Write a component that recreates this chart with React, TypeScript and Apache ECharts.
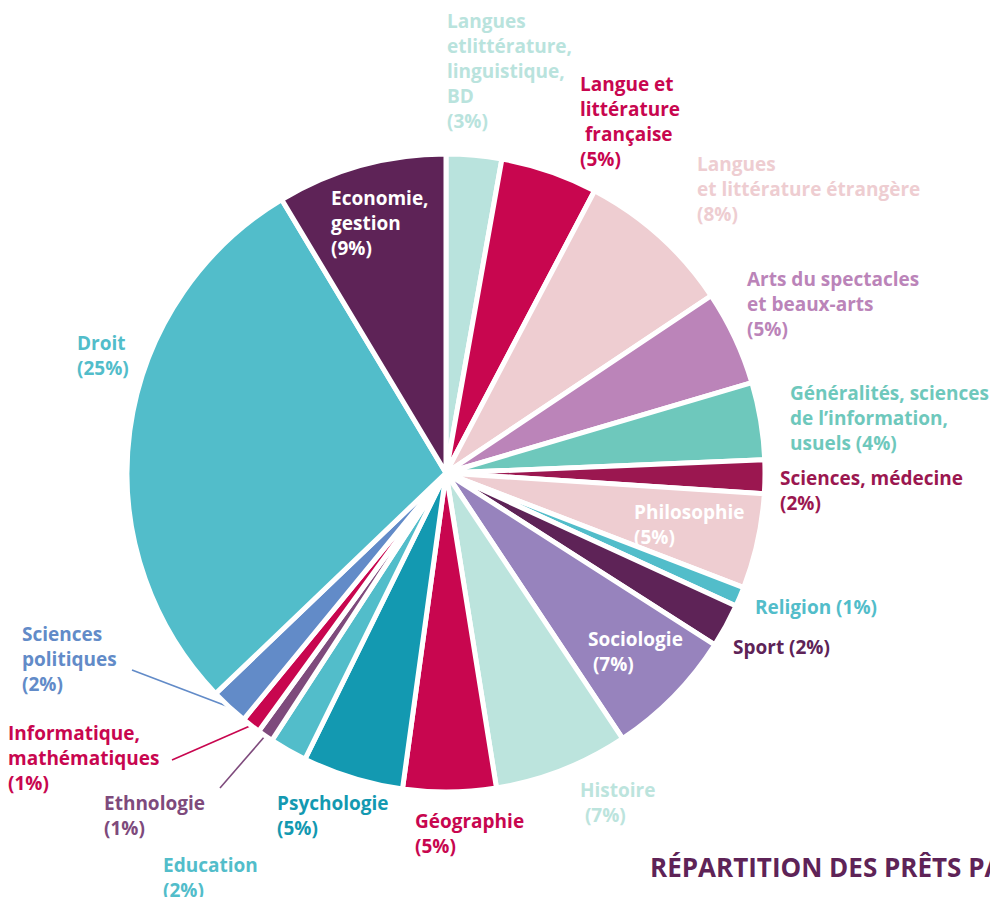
import React, { useEffect, useRef } from "react";
import * as echarts from "echarts";

// Disciplines, clockwise from 12 o'clock
const categories = [
  "Langues et littérature, linguistique, BD",
  "Langue et littérature française",
  "Langues et littérature étrangère",
  "Arts du spectacles et beaux-arts",
  "Généralités, sciences de l’information, usuels",
  "Sciences, médecine",
  "Philosophie",
  "Religion",
  "Sport",
  "Sociologie",
  "Histoire",
  "Géographie",
  "Psychologie",
  "Education",
  "Ethnologie",
  "Informatique, mathématiques",
  "Sciences politiques",
  "Droit",
  "Economie, gestion",
];

// Slice sizes as drawn in the picture (share of the disc)
const sliceShares = [2.8, 4.9, 7.9, 4.8, 3.9, 1.7, 4.8, 1.0, 2.2, 6.6, 6.8, 4.7, 5.1, 1.9, 0.8, 0.95, 1.9, 28.5, 8.6];

// Percentages printed in the labels
const shownPercents = [3, 5, 8, 5, 4, 2, 5, 1, 2, 7, 7, 5, 5, 2, 1, 1, 2, 25, 9];

// Label texts as broken in the picture; %p is replaced by the printed percentage
const labelTexts = [
  "Langues\netlittérature,\nlinguistique,\nBD\n(%p%)",
  "Langue et\nlittérature\n française\n(%p%)",
  "Langues\net littérature étrangère\n(%p%)",
  "Arts du spectacles\net beaux-arts\n(%p%)",
  "Généralités, sciences\nde l’information,\nusuels (%p%)",
  "Sciences, médecine\n(%p%)",
  "Philosophie\n(%p%)",
  "Religion (%p%)",
  "Sport (%p%)",
  "Sociologie\n (%p%)",
  "Histoire\n (%p%)",
  "Géographie\n(%p%)",
  "Psychologie\n(%p%)",
  "Education\n(%p%)",
  "Ethnologie\n(%p%)",
  "Informatique,\nmathématiques\n(%p%)",
  "Sciences\npolitiques\n(%p%)",
  "Droit\n(%p%)",
  "Economie,\ngestion\n(%p%)",
];

const sliceColors = [
  "#b9e3dd", "#c8064f", "#eecdd1", "#bb84b9", "#6ec8bc", "#9b1750", "#eecdd1",
  "#52bdca", "#5e2357", "#9783bd", "#bce4dd", "#c8064f", "#1399b1", "#52bdca",
  "#7e4a7c", "#c8064f", "#628bc8", "#52bdca", "#5e2357",
];

const labelColors = [
  "#b9e3dd", "#c8064f", "#eecdd1", "#bb84b9", "#6ec8bc", "#9b1750", "#ffffff",
  "#52bdca", "#5e2357", "#ffffff", "#bce4dd", "#c8064f", "#1399b1", "#52bdca",
  "#7e4a7c", "#c8064f", "#628bc8", "#52bdca", "#ffffff",
];

const withLeaderLine = ["Ethnologie", "Informatique, mathématiques", "Sciences politiques"];

const titleText = "RÉPARTITION DES PRÊTS PAR DISCIPLINE";

// label placement (top-left corner of each label block, in px)
const labelSpots: [number, number][] = [
  [447, 8], [580, 71], [697, 151], [747, 266], [790, 380], [780, 465],
  [634, 499], [755, 594], [733, 634], [588, 626], [580, 777], [415, 808],
  [277, 790], [163, 852], [104, 790], [8, 720], [22, 621], [77, 330], [331, 185],
];
const leaderEnds: Record<number, [number, number]> = {
  14: [220, 788],
  15: [172, 760],
  16: [132, 670],
};

const FONT = "'Open Sans', sans-serif";

export default function App() {
  const ref = useRef<HTMLDivElement>(null);
  useEffect(() => {
    if (!ref.current) return;
    const chart = echarts.init(ref.current, null, { renderer: "svg" });
    const data = categories.map((name, i) => ({
      name,
      value: sliceShares[i],
      itemStyle: { color: sliceColors[i] },
      label: { color: labelColors[i] },
      labelLine: {
        show: withLeaderLine.includes(name),
        lineStyle: { color: labelColors[i], width: 1.6 },
      },
    }));
    chart.setOption({
      animation: false,
      backgroundColor: "#ffffff",
      graphic: [
        {
          type: "text",
          left: 650,
          top: 854,
          style: {
            text: titleText,
            fill: "#5e2357",
            font: `700 26px ${FONT}`,
          },
        },
      ],
      series: [
        {
          type: "pie",
          center: [446, 473],
          radius: [0, 319],
          startAngle: 90,
          clockwise: true,
          avoidLabelOverlap: false,
          minShowLabelAngle: 0,
          itemStyle: { borderColor: "#ffffff", borderWidth: 5 },
          label: {
            show: true,
            position: "outside",
            fontFamily: FONT,
            fontWeight: 700,
            fontSize: 19,
            lineHeight: 25,
            align: "left",
            formatter: (p: any) =>
              labelTexts[p.dataIndex].replace("%p", String(shownPercents[p.dataIndex])),
          },
          labelLine: { show: false, length: 10, length2: 10 },
          labelLayout: (p: any) => {
            const i = p.dataIndex;
            const [x, y] = labelSpots[i];
            const res: any = { x, y, align: "left", verticalAlign: "top", hideOverlap: false };
            const end = leaderEnds[i];
            if (end && p.labelLinePoints) {
              const start = p.labelLinePoints[0];
              res.labelLinePoints = [start, end, end];
            }
            return res;
          },
          data,
        },
      ],
    });
    return () => chart.dispose();
  }, []);
  return (
    <div
      ref={ref}
      style={{ position: "absolute", left: 0, top: 0, width: 990, height: 897 }}
    />
  );
}
